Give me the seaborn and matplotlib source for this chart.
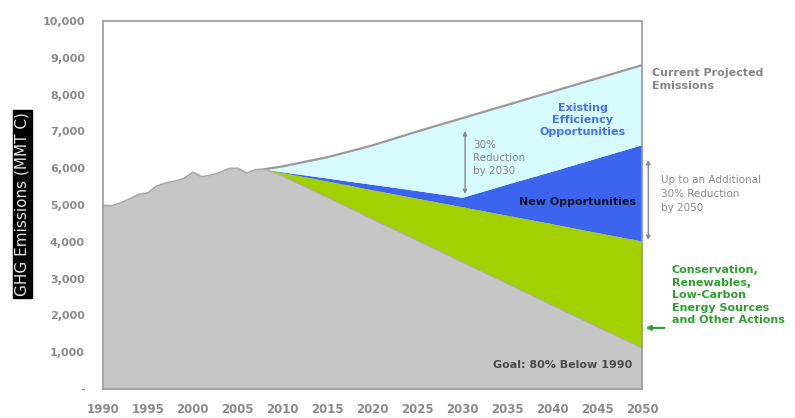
import numpy as np
import pandas as pd
import matplotlib
matplotlib.use("Agg")
import matplotlib.pyplot as plt
import seaborn as sns

# ---- data ----
hist_years = [1990, 1991, 1992, 1993, 1994, 1995, 1996, 1997, 1998, 1999,
              2000, 2001, 2002, 2003, 2004, 2005, 2006, 2007, 2008]
hist_values = [4990, 4980, 5060, 5170, 5290, 5330, 5520, 5600, 5650, 5720,
               5890, 5770, 5810, 5880, 5990, 6000, 5870, 5960, 5975]

proj_years = [2008, 2010, 2015, 2020, 2025, 2030, 2035, 2040, 2045, 2050]
current_projected = [5975, 6050, 6300, 6620, 7000, 7360, 7720, 8080, 8440, 8800]
efficiency_bottom = [5975, 5900, 5730, 5560, 5390, 5210, 5570, 5920, 6280, 6640]
new_opp_bottom = [5975, 5880, 5650, 5410, 5180, 4950, 4720, 4490, 4250, 4020]
goal_path = [5975, 5780, 5200, 4610, 4030, 3440, 2860, 2270, 1690, 1110]

x_ticks = [1990, 1995, 2000, 2005, 2010, 2015, 2020, 2025, 2030, 2035, 2040, 2045, 2050]
y_ticks = [0, 1000, 2000, 3000, 4000, 5000, 6000, 7000, 8000, 9000, 10000]
y_tick_labels = ["-", "1,000", "2,000", "3,000", "4,000", "5,000", "6,000",
                 "7,000", "8,000", "9,000", "10,000"]

sns.set_theme(style="white")
plt.rcParams['font.family'] = ['DejaVu Sans']

fig = plt.figure(figsize=(7.95, 4.18), dpi=100)
ax = fig.add_axes([103/795, 1-389/418, (642-103)/795, (389-21)/418])

hist = pd.DataFrame({"year": hist_years, "value": hist_values})
proj = pd.DataFrame({"year": proj_years, "current": current_projected,
                     "eff": efficiency_bottom, "newopp": new_opp_bottom,
                     "goal": goal_path})
# remaining-emissions path: history then goal path (one continuous area)
remaining = pd.concat([hist.rename(columns={"value": "v"}),
                       proj[["year", "goal"]].iloc[1:].rename(columns={"goal": "v"})],
                      ignore_index=True)

GRAY = "#c6c6c6"
CYAN = "#d6fafd"
BLUE = "#3c64ee"
GREEN = "#a2d000"

# fills
ax.fill_between(remaining["year"], 0, remaining["v"], color=GRAY, lw=0)
ax.fill_between(proj["year"], proj["goal"], proj["newopp"], color=GREEN, lw=0)
ax.fill_between(proj["year"], proj["newopp"], proj["eff"], color=BLUE, lw=0)
ax.fill_between(proj["year"], proj["eff"], proj["current"], color=CYAN, lw=0)

# lines
sns.lineplot(data=hist, x="year", y="value", ax=ax, color="#a8a8a8", lw=1.2)
sns.lineplot(data=proj, x="year", y="current", ax=ax, color="#9a9a9a", lw=1.6)
sns.lineplot(data=proj, x="year", y="goal", ax=ax, color="#b0b0b0", lw=0.8)

ax.set_xlim(1990, 2050)
ax.set_ylim(0, 10000)
ax.set_xticks(x_ticks)
ax.set_xticklabels([str(t) for t in x_ticks])
ax.set_yticks(y_ticks)
ax.set_yticklabels(y_tick_labels)
ax.set_xlabel("")
ax.set_ylabel("")

for s in ax.spines.values():
    s.set_color("#9a9a9a")
    s.set_linewidth(1.2)

ax.tick_params(axis="both", which="both", direction="out", length=5, width=1,
               color="#9a9a9a", labelcolor="#8a8a8a", labelsize=8)
ax.tick_params(axis="x", labelsize=8.5, pad=5)
ax.tick_params(axis="y", pad=8)
for lab in ax.get_xticklabels() + ax.get_yticklabels():
    lab.set_fontweight("bold")

# y label with black box
fig.text(22.5/795, 1-204/418, "GHG Emissions (MMT C)", rotation=90, ha="center",
         va="center", color="#e4e4e4", fontsize=11,
         bbox=dict(boxstyle="square,pad=0.12", fc="black", ec="black"))

# annotations
ax.text(2051.1, 8400, "Current Projected\nEmissions", ha="left", va="center",
        color="#858585", fontsize=8, fontweight="bold", linespacing=1.35, clip_on=False)
ax.text(2043.4, 7310, "Existing\nEfficiency\nOpportunities", ha="center", va="center",
        color="#4a70ea", fontsize=8, fontweight="bold", linespacing=1.3)
ax.text(2031.2, 6280, "30%\nReduction\nby 2030", ha="left", va="center",
        color="#8a8a8a", fontsize=7.5, linespacing=1.35)
ax.annotate("", xy=(2030.3, 7090), xytext=(2030.3, 5220),
            arrowprops=dict(arrowstyle="<|-|>", color="#8a8a8a", lw=1, mutation_scale=6))
ax.text(2042.8, 5080, "New Opportunities", ha="center", va="center",
        color="#101830", fontsize=8, fontweight="bold")
ax.text(2052.1, 5300, "Up to an Additional\n30% Reduction\nby 2050", ha="left", va="center",
        color="#8a8a8a", fontsize=7.5, linespacing=1.5, clip_on=False)
ax.annotate("", xy=(2050.7, 6300), xytext=(2050.7, 3970),
            arrowprops=dict(arrowstyle="<|-|>", color="#8a8a8a", lw=1, mutation_scale=6),
            annotation_clip=False)
ax.text(2053.3, 2550, "Conservation,\nRenewables,\nLow-Carbon\nEnergy Sources\nand Other Actions",
        ha="left", va="center", color="#2ea02e", fontsize=8, fontweight="bold",
        linespacing=1.3, clip_on=False)
ax.annotate("", xy=(2050.1, 1660), xytext=(2052.8, 1660),
            arrowprops=dict(arrowstyle="-|>", color="#2ea02e", lw=1.5, mutation_scale=7),
            annotation_clip=False)
ax.text(2048.9, 650, "Goal: 80% Below 1990", ha="right", va="center",
        color="#4a4a4a", fontsize=8, fontweight="bold")

fig.savefig("out.png", dpi=100, facecolor="white")
